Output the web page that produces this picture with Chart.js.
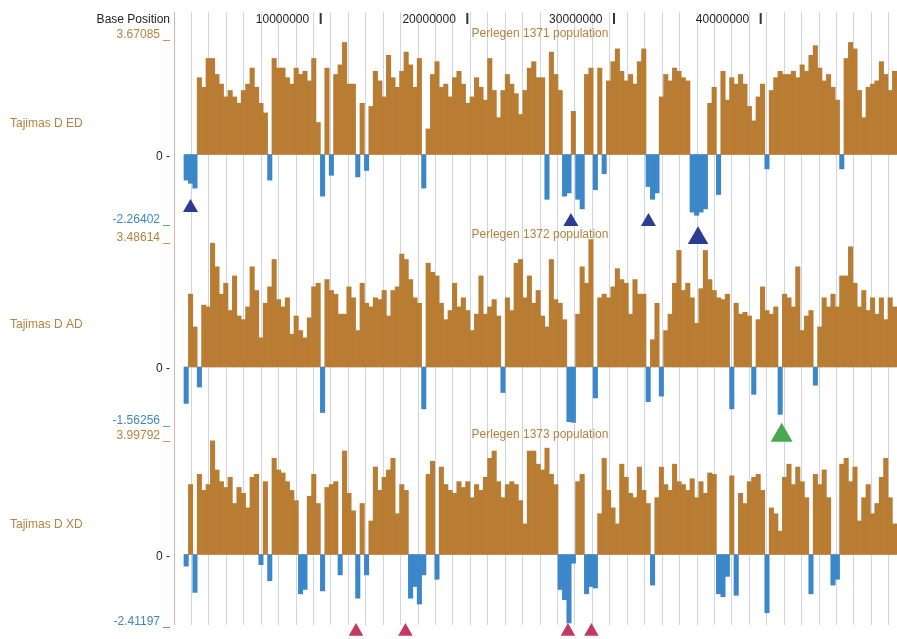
<!DOCTYPE html>
<html>
<head>
<meta charset="utf-8">
<title>Tajimas D - Perlegen populations</title>
<script src="https://cdn.jsdelivr.net/npm/chart.js@4.4.1/dist/chart.umd.min.js"></script>
<style>
  html, body { margin: 0; padding: 0; background: #fff; overflow: hidden; }
  #wrap { position: relative; width: 897px; height: 639px; }
</style>
</head>
<body>
<div id="wrap"><canvas id="chart-tajima"></canvas></div>
<script>
// ============================================================
// Data: Tajima's D per 0.3 Mb window
// ============================================================
const binStartMb = 0.68;
const binSizeMb = 0.3;
const chromEndMb = 49.295;

const edValues = [
  -0.8, -0.9, -1.05, 2.4, 2.1, 3.0, 3.0, 2.5, 2.2, 1.8,
  2.0, 1.8, 1.6, 2.0, 2.2, 2.7, 2.1, 1.6, 1.3, -0.8,
  3.0, 2.7, 2.7, 2.4, 2.2, 2.7, 2.5, 2.6, 2.3, 3.0,
  1.0, -1.3, 2.7, -0.65, 2.5, 2.8, 3.5, 2.2, 2.2, -0.7,
  1.6, -0.5, 1.5, 2.6, 2.3, 1.8, 3.1, 2.4, 2.1, 2.6,
  3.2, 2.8, 2.1, 3.0, -1.05, 0.8, 2.5, 2.9, 2.1, 2.2,
  1.8, 2.4, 2.6, 2.2, 1.6, 1.8, 2.4, 2.1, 1.7, 3.0,
  2.0, 1.15, 2.0, 2.5, 2.2, 1.9, 1.25, 2.0, 2.7, 2.9,
  2.4, 2.4, -1.4, 3.2, 2.5, 2.0, -1.3, -1.2, 1.35, -1.4,
  -1.7, 2.5, 2.7, -1.1, 2.7, -0.6, 2.3, 2.9, 3.3, 2.6,
  2.3, 2.5, 2.2, 2.9, 3.3, -1.0, -1.4, -1.2, 1.8, 2.5,
  2.3, 2.7, 2.6, 2.4, 2.3, -1.8, -1.9, -1.8, -1.7, 1.6,
  2.1, -1.25, 2.6, 1.7, 2.4, 2.2, 2.5, 2.2, 1.5, 1.05,
  1.8, 2.2, -0.45, 2.0, 2.4, 2.6, 2.5, 2.5, 2.6, 2.4,
  2.8, 2.6, 3.1, 3.4, 2.7, 2.3, 2.5, 2.1, 1.7, -0.45,
  3.0, 3.5, 3.3, 2.0, 1.15, 2.1, 2.2, 2.3, 2.9, 2.5,
  2.0, 2.6
];

const adValues = [
  -1.0, 2.0, 1.1, -0.55, 1.7, 1.65, 3.4, 2.75, 2.0, 2.3,
  1.55, 2.5, 1.4, 1.3, 1.65, 2.75, 2.1, 0.8, 1.75, 2.2,
  2.95, 1.85, 1.65, 1.9, 0.9, 1.4, 1.0, 0.8, 1.35, 2.2,
  2.3, -1.25, 2.4, 2.1, 2.0, 1.45, 1.45, 2.2, 1.9, 1.0,
  2.3, 1.75, 1.65, 1.9, 1.85, 2.1, 1.4, 2.1, 2.2, 3.1,
  2.95, 2.4, 1.9, 1.75, -1.15, 2.85, 2.6, 2.5, 1.75, 1.3,
  1.55, 2.3, 1.65, 1.9, 1.55, 1.0, 1.45, 2.5, 1.45, 1.65,
  1.85, 1.4, -0.7, 1.9, 1.55, 2.85, 2.95, 1.9, 2.5, 1.75,
  2.1, 1.4, 1.1, 2.95, 1.85, 1.75, 1.3, -1.5, -1.52, 1.45,
  2.75, 2.3, 3.5, -0.85, 1.9, 2.0, 1.9, 2.2, 2.7, 2.4,
  2.3, 1.45, 2.4, 2.0, 2.0, -0.95, 0.75, 1.75, -0.8, 1.0,
  1.45, 2.3, 3.2, 2.1, 2.3, 1.9, 1.2, 2.15, 3.2, 2.4,
  2.1, 1.9, 1.85, 2.0, -1.15, 1.75, 1.45, 1.5, 1.4, -0.75,
  1.3, 2.2, 1.55, 1.45, 1.65, -1.3, 2.0, 1.9, 1.65, 2.75,
  1.0, 1.4, 1.55, -0.5, 1.1, 1.9, 1.65, 2.0, 1.65, 2.5,
  2.5, 3.3, 2.3, 1.65, 2.1, 1.55, 1.9, 1.45, 1.9, 1.3,
  1.9, 1.65
];

const xdValues = [
  -0.4, 2.4, -1.3, 2.75, 2.2, 2.4, 3.9, 2.9, 2.5, 2.3,
  2.65, 1.75, 2.3, 2.1, 1.6, 2.65, 2.75, -0.35, 2.5, -0.9,
  3.3, 2.9, 2.8, 2.5, 2.2, 1.85, -1.35, -1.2, 2.0, 2.75,
  1.75, -1.25, 2.3, 2.4, 2.5, -0.7, 3.55, 2.1, 1.5, -1.5,
  1.75, -0.7, 1.15, 3.0, 2.2, 2.65, 2.9, 3.3, 1.4, 2.4,
  2.2, -1.5, -1.1, -1.7, -0.7, 2.75, 3.2, -0.85, 3.0, 2.4,
  2.2, 2.1, 2.5, 2.3, 2.5, 1.95, 2.4, 2.2, 2.65, 3.3,
  3.55, 2.5, 1.95, 2.4, 2.5, 2.4, 1.85, 1.05, 3.55, 3.55,
  3.1, 2.9, 3.65, 2.75, 2.4, -1.2, -1.55, -2.35, -0.3, 2.5,
  2.75, -1.35, -1.1, -1.15, 1.4, 3.3, 2.2, 1.6, 1.05, 3.1,
  2.65, 2.1, 1.95, 3.0, 2.2, 1.75, -1.05, 1.95, 3.0, 2.4,
  2.2, 3.1, 2.5, 2.4, 2.2, 2.6, 1.95, 2.5, 2.1, 2.8,
  2.75, -1.35, -1.45, -0.75, 2.7, -1.4, 2.1, 1.75, 2.5, 2.65,
  2.75, 2.2, -2.0, 1.6, 1.4, 0.8, 2.65, 3.1, 2.4, 3.0,
  2.5, 1.95, -1.35, 2.75, 2.4, 2.9, 1.95, -1.05, -0.85, 3.1,
  3.3, 2.5, 3.0, 1.15, 1.95, 2.4, 1.4, 1.75, 2.65, 3.3,
  1.95, 1.05
];

// track annotations (Mb, Tajima's D)
const trackNames = ["Tajimas D ED", "Tajimas D AD", "Tajimas D XD"];
const trackTitles = ["Perlegen 1371 population", "Perlegen 1372 population", "Perlegen 1373 population"];
const trackMax = [3.67085, 3.48614, 3.99792];
const trackMin = [-2.26402, -1.56256, -2.41197];
const rulerTicks = [10000000, 20000000, 30000000, 40000000];

// triangle markers below the dips
const blueMarksX = [1.125, 27.06, 32.35, 35.73];
const blueMarksY = [-1.66, -2.10, -2.10, -2.61];
const greenMarksX = [41.43];
const greenMarksY = [-1.88];
const redMarksX = [12.41, 15.78, 26.86, 28.46];
const redMarksY = [-2.64, -2.64, -2.64, -2.64];

// ============================================================
// Layout / style
// ============================================================
const BROWN = "#b87c33";
const BLUE = "#3b87c8";
const LABEL_BROWN = "#b5833f";
const LABEL_BLUE = "#3f86c4";
const GRID = "#cfd3ec";
const FONT = "12px 'Liberation Sans', Arial, Helvetica, sans-serif";

const AREA = { top: 12, bottom: 625, left: 174 };
const TRACK_PX = [
  { hi: 37, zero: 154.5, loLabel: 222.5, name: 123.5, title: 33.5 },
  { hi: 240, zero: 367, loLabel: 424, name: 324.5, title: 234.5 },
  { hi: 438, zero: 554.5, loLabel: 624.5, name: 524.5, title: 434.5 }
];
const gridStepMb = 1.1887;
const markerSizes = { blue: [8.7, 8.7, 8.7, 11.8], green: [12.7], red: [8.4, 8.4, 8.4, 8.4] };

// each track's y axis spans the whole plot, so the range is stretched to put
// the track's own band at the right height
function trackAxis(i) {
  const t = TRACK_PX[i];
  const k = (t.zero - t.hi) / trackMax[i];
  return {
    type: "linear",
    display: false,
    min: -(AREA.bottom - t.zero) / k,
    max: (t.zero - AREA.top) / k
  };
}

function barDataset(values, axisId) {
  return {
    type: "bar",
    yAxisID: axisId,
    grouped: false,
    order: 1,
    data: values.map((v, i) => ({ x: binStartMb + binSizeMb * (i + 0.5), y: v })),
    backgroundColor: values.map(v => (v < 0 ? BLUE : BROWN)),
    borderWidth: 0,
    barPercentage: 1,
    categoryPercentage: 1
  };
}

function markerDataset(xs, ys, axisId, color, sizes) {
  return {
    type: "line",
    yAxisID: axisId,
    showLine: false,
    order: 0,
    clip: false,
    data: xs.map((x, i) => ({ x, y: ys[i] })),
    pointStyle: "triangle",
    pointRadius: sizes,
    pointHoverRadius: sizes,
    pointBackgroundColor: color,
    pointBorderWidth: 0
  };
}

// text around the plot: ruler, track names, range labels
const labelPlugin = {
  id: "browserLabels",
  afterDraw(chart) {
    const { ctx } = chart;
    const xs = chart.scales.x;
    ctx.save();
    ctx.font = FONT;

    // ruler row
    ctx.textBaseline = "middle";
    ctx.textAlign = "right";
    ctx.fillStyle = "#222";
    ctx.fillText("Base Position", 170, 20);
    rulerTicks.forEach(pos => {
      const px = xs.getPixelForValue(pos / 1e6);
      ctx.fillStyle = "#222";
      ctx.fillText(String(pos), px - 11.5, 20);
      ctx.fillStyle = "#333";
      ctx.fillRect(px - 1, 13, 2, 11);
    });

    TRACK_PX.forEach((t, i) => {
      const ys = chart.scales["y" + (i + 1)];
      // track name on the left
      ctx.textAlign = "left";
      ctx.textBaseline = "middle";
      ctx.fillStyle = LABEL_BROWN;
      ctx.fillText(trackNames[i], 10, t.name);
      // title over the track
      ctx.textAlign = "center";
      ctx.fillText(trackTitles[i], 540, t.title);
      // range labels
      ctx.textAlign = "right";
      ctx.textBaseline = "alphabetic";
      ctx.fillStyle = LABEL_BROWN;
      ctx.fillText(trackMax[i].toFixed(5) + " _", 170, ys.getPixelForValue(trackMax[i]) + 0.5);
      ctx.fillStyle = LABEL_BLUE;
      ctx.fillText(trackMin[i].toFixed(5) + " _", 170, t.loLabel);
      ctx.textBaseline = "middle";
      ctx.fillStyle = "#222";
      ctx.fillText("0 -", 170, ys.getPixelForValue(0) + 2);
    });
    ctx.restore();
  }
};

const ctx = document.getElementById("chart-tajima");
new Chart(ctx, {
  type: "bar",
  data: {
    datasets: [
      markerDataset(blueMarksX, blueMarksY, "y1", "#2b3d93", markerSizes.blue),
      markerDataset(greenMarksX, greenMarksY, "y2", "#4aa94f", markerSizes.green),
      markerDataset(redMarksX, redMarksY, "y3", "#c43a5d", markerSizes.red),
      barDataset(edValues, "y1"),
      barDataset(adValues, "y2"),
      barDataset(xdValues, "y3")
    ]
  },
  options: {
    responsive: true,
    maintainAspectRatio: false,
    animation: false,
    events: [],
    layout: {
      autoPadding: false,
      padding: { left: AREA.left, right: 0, top: AREA.top, bottom: 639 - AREA.bottom }
    },
    plugins: {
      legend: { display: false },
      tooltip: { enabled: false }
    },
    scales: {
      x: {
        type: "linear",
        position: "top",
        min: 0,
        max: chromEndMb,
        offset: false,
        afterBuildTicks: scale => {
          const ticks = [];
          for (let k = 0; k * gridStepMb <= chromEndMb; k++) ticks.push({ value: k * gridStepMb });
          scale.ticks = ticks;
        },
        ticks: { display: false },
        border: { display: false },
        grid: {
          offset: false,
          drawTicks: false,
          lineWidth: 1,
          color: c => (c.index === 0 ? "#dcb5a4" : GRID)
        }
      },
      y1: trackAxis(0),
      y2: trackAxis(1),
      y3: trackAxis(2)
    }
  },
  plugins: [labelPlugin]
});
</script>
</body>
</html>
